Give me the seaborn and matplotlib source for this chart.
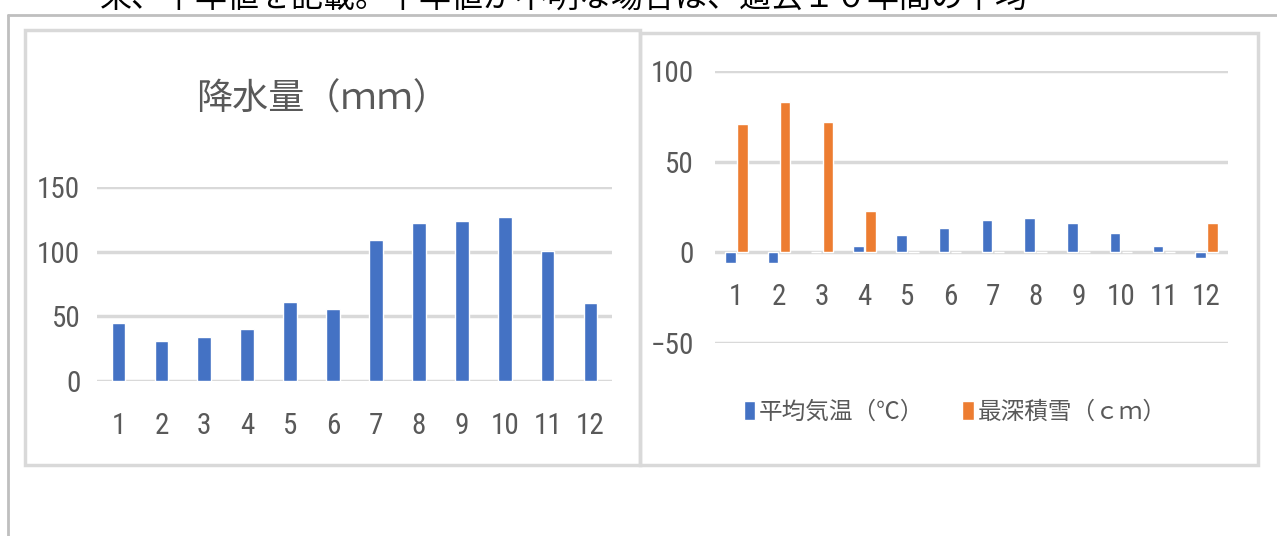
import numpy as np
import pandas as pd
import seaborn as sns
import matplotlib.pyplot as plt
from matplotlib import font_manager
from matplotlib.patches import Rectangle
from matplotlib.lines import Line2D

# data
months = [str(m) for m in range(1, 13)]
precip = [45, 31, 34, 40.5, 61, 55.5, 109, 122.5, 124, 127, 100.5, 60]
temp = [-6, -6, 0, 3.7, 9.4, 13.3, 18.1, 19.2, 16.3, 10.4, 3.7, -3]
snow = [71, 83, 72, 23, 0, 0, 0, 0, 0, 0, 0, 16.3]
temp_label = "平均気温（℃）"
snow_label = "最深積雪（ｃｍ）"
title_left = "降水量（ｍｍ）"
header = "来、平年値を記載。平年値が不明な場合は、過去１０年間の平均"

BLUE = "#4472C4"
ORANGE = "#ED7D31"
GRID = "#d9d9d9"
TXT = "#595959"

sns.set_theme(style="white")
plt.rcParams['font.family'] = ['Noto Sans CJK JP', 'DejaVu Sans']

# narrow face for the numbers if one is around
num_font = None
for name in ['Liberation Sans Narrow', 'Roboto Condensed', 'Open Sans Condensed']:
    try:
        font_manager.findfont(font_manager.FontProperties(family=name),
                              fallback_to_default=False)
        num_font = name
        break
    except Exception:
        pass
NUM_FONT = [num_font, 'Noto Sans CJK JP'] if num_font else ['Noto Sans CJK JP']
NUM_SIZE = 21 if num_font else 19

W, H = 1277, 536
fig = plt.figure(figsize=(W / 100, H / 100), dpi=100)


def fx(px):
    return px / W


def fy(py):
    return 1 - py / H


# frames
fig.add_artist(Line2D([fx(8), 1], [fy(15), fy(15)], color="#bfbfbf", lw=2))
fig.add_artist(Line2D([fx(8), fx(8)], [fy(15), 0], color="#bfbfbf", lw=2))
fig.add_artist(Rectangle((fx(25), fy(465)), fx(615), 435 / H, fill=False,
                         edgecolor=GRID, lw=2.5))
fig.add_artist(Rectangle((fx(640), fy(465)), fx(618), 432 / H, fill=False,
                         edgecolor=GRID, lw=2.5))

# cut-off header line of the document (cut in the reference too)
fig.text(fx(100), fy(7), header, fontsize=23, color="black", ha="left",
         va="baseline")

# left chart: precipitation
df_p = pd.DataFrame({"month": months, "value": precip})
ax1 = fig.add_axes([fx(97), fy(381), fx(515), 194 / H])
sns.barplot(data=df_p, x="month", y="value", color=BLUE, saturation=1,
            width=0.32, ax=ax1)
ax1.set_ylim(0, 150)
ax1.set_yticks([0, 50, 100, 150])
ax1.grid(axis="y", color=GRID, lw=2.5)
ax1.set_axisbelow(True)
for s in ax1.spines.values():
    s.set_visible(False)
ax1.set_xlabel("")
ax1.set_ylabel("")
ax1.tick_params(axis="both", length=0, colors=TXT, labelsize=NUM_SIZE)
ax1.tick_params(axis="x", pad=22)
ax1.tick_params(axis="y", pad=12)
for lab in ax1.get_xticklabels() + ax1.get_yticklabels():
    lab.set_family(NUM_FONT)
fig.text(fx(322), fy(100), title_left, fontsize=26, color=TXT,
         ha="center", va="center")

# right chart: temperature and snow depth
df_w = pd.DataFrame({
    "month": months * 2,
    "value": temp + snow,
    "series": [temp_label] * 12 + [snow_label] * 12,
})
ax2 = fig.add_axes([fx(715), fy(343), fx(513), 272 / H])
sns.barplot(data=df_w, x="month", y="value", hue="series",
            palette=[BLUE, ORANGE], saturation=1, width=0.56, gap=0.12,
            ax=ax2)
ax2.set_ylim(-50, 100)
ax2.set_yticks([-50, 0, 50, 100])
ax2.grid(axis="y", color=GRID, lw=2.5)
ax2.set_axisbelow(True)
ax2.spines["bottom"].set_position(("data", 0))
for s in ax2.spines.values():
    s.set_visible(False)
ax2.set_xlabel("")
ax2.set_ylabel("")
ax2.tick_params(axis="both", length=0, colors=TXT, labelsize=NUM_SIZE)
ax2.tick_params(axis="x", pad=22)
ax2.tick_params(axis="y", pad=15)
for lab in ax2.get_xticklabels() + ax2.get_yticklabels():
    lab.set_family(NUM_FONT)

handles, labels = ax2.get_legend_handles_labels()
ax2.legend(handles, labels, loc="center", bbox_to_anchor=(fx(955), fy(412)),
           bbox_transform=fig.transFigure, ncol=2, frameon=False,
           fontsize=17, labelcolor=TXT, handlelength=0.5, handleheight=0.9,
           handletextpad=0.15, columnspacing=1.6)

fig.savefig("out.png", dpi=100)
